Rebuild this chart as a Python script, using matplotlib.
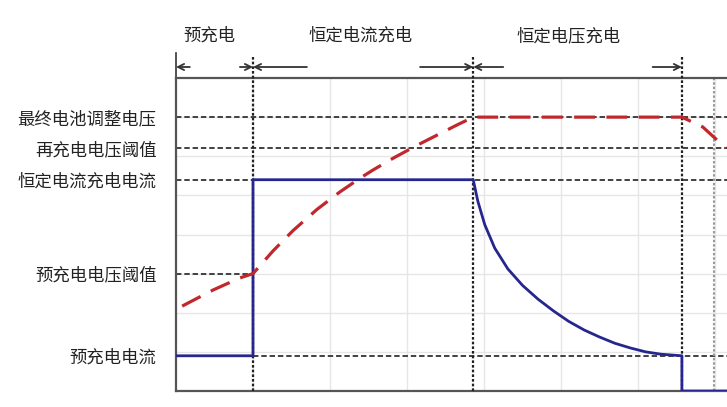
import matplotlib
matplotlib.use("Agg")
import matplotlib.pyplot as plt

plt.rcParams['font.family'] = ['Noto Sans CJK SC', 'DejaVu Sans']

# ---- data (grid units) ----
level_labels = ['最终电池调整电压', '再充电电压阈值', '恒定电流充电电流', '预充电电压阈值', '预充电电流']
level_values = [7.0, 6.2, 5.4, 3.0, 0.9]

phase_labels = ['预充电', '恒定电流充电', '恒定电压充电']
phase_label_x = [0.44, 2.40, 5.10]
phase_bounds = [0.0, 1.0, 3.86, 6.57]
extra_line_x = 6.99

current_x = [0.0, 1.0, 1.0, 3.86, 3.92, 4.01, 4.14, 4.31, 4.50, 4.70, 4.90, 5.10,
             5.30, 5.50, 5.70, 5.90, 6.10, 6.30, 6.57, 6.57, 7.2]
current_y = [0.9, 0.9, 5.4, 5.4, 4.85, 4.25, 3.65, 3.12, 2.70, 2.35, 2.05, 1.78,
             1.56, 1.38, 1.22, 1.10, 1.00, 0.94, 0.90, 0.0, 0.0]

voltage_x = [0.08, 0.48, 0.83, 1.0, 1.26, 1.52, 1.83, 2.13, 2.39, 2.56, 2.82, 3.13,
             3.43, 3.65, 3.86, 6.57, 6.84, 7.14]
voltage_y = [2.17, 2.58, 2.89, 3.0, 3.58, 4.10, 4.64, 5.09, 5.44, 5.65, 5.95, 6.28,
             6.58, 6.80, 7.0, 7.0, 6.75, 6.21]

# arrows: (start, end) along the phase row
arrow_pairs = [(0.18, 0.0), (0.83, 1.0), (1.70, 1.0), (3.17, 3.86), (4.25, 3.86), (6.19, 6.57)]

W, H = 727, 407
fig = plt.figure(figsize=(W / 100, H / 100), dpi=100)
ax = fig.add_axes([176 / W, 16 / H, 551 / W, 313 / H])
xmax = 551 / 77.0
ax.set_xlim(0, xmax)
ax.set_ylim(0, 8)

# light grid
for gx in range(1, 8):
    ax.axvline(gx, color='#e6e6e6', lw=1.0, zorder=0)
for gy in range(1, 8):
    ax.axhline(gy, color='#e6e6e6', lw=1.0, zorder=0)

# horizontal reference dashed lines
dash_kw = dict(color='#333333', lw=1.3, linestyle=(0, (3, 1.6)), zorder=2)
ax.plot([0, xmax], [level_values[0]] * 2, **dash_kw)
ax.plot([0, xmax], [level_values[1]] * 2, **dash_kw)
ax.plot([0, xmax], [level_values[2]] * 2, **dash_kw)
ax.plot([0, phase_bounds[1]], [level_values[3]] * 2, **dash_kw)
ax.plot([phase_bounds[1], xmax], [level_values[4]] * 2, **dash_kw)

# vertical phase boundaries
for bx in phase_bounds[1:]:
    ax.plot([bx, bx], [0, 8.59], color='#222222', lw=1.6, linestyle=(0, (1.2, 0.9)),
            clip_on=False, zorder=3)
ax.plot([phase_bounds[0], phase_bounds[0]], [8.0, 8.65], color='#333333', lw=1.2, clip_on=False)
ax.plot([extra_line_x, extra_line_x], [0, 8], color='#9a9a9a', lw=1.5,
        linestyle=(0, (1.2, 0.9)), zorder=2)

# curves
ax.plot(current_x, current_y, color='#26268f', lw=2.0, zorder=5, solid_joinstyle='round')
ax.plot(voltage_x, voltage_y, color='#c0282d', lw=2.3, linestyle=(0, (6.5, 3.6)), zorder=6)

# spines
for s in ['left', 'top', 'bottom']:
    ax.spines[s].set_color('#555555')
    ax.spines[s].set_linewidth(1.6)
ax.spines['right'].set_visible(False)

ax.set_xticks([])
ax.set_yticks(level_values)
ax.set_yticklabels(level_labels, fontsize=12.5, color='#222222')
ax.tick_params(axis='y', length=0, pad=14)

# phase labels and arrows
arrow_y = 8.0 + 11 / 39.125
label_y = 8.0 + 42 / 39.125
for lab, lx in zip(phase_labels, phase_label_x):
    ax.text(lx, label_y, lab, ha='center', va='center', fontsize=12.5, color='#222222',
            clip_on=False)
for (x0, x1) in arrow_pairs:
    ax.annotate('', xy=(x1, arrow_y), xytext=(x0, arrow_y), annotation_clip=False,
                arrowprops=dict(arrowstyle='->', color='#333333', lw=1.3,
                                shrinkA=0, shrinkB=0, mutation_scale=11))

fig.savefig('out.png', dpi=100)
